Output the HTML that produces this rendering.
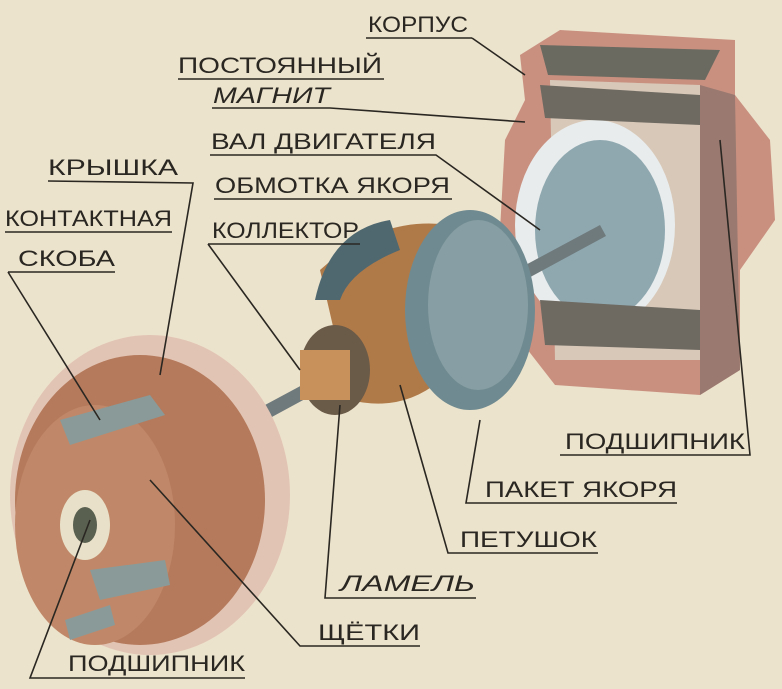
<!DOCTYPE html><html><head><meta charset="utf-8"><style>
body{margin:0;background:#ece3cc;}
svg{display:block}
text{font-family:"Liberation Sans",sans-serif;font-size:22px;fill:#2a2722}
</style></head><body>
<svg width="782" height="689" viewBox="0 0 782 689">
<rect width="782" height="689" fill="#ece3cc"/>
<!-- housing -->
<path d="M520 55 L560 30 L735 40 L735 95 L770 140 L775 220 L740 270 L740 370 L700 395 L555 385 L520 340 L525 280 L500 230 L505 140 L525 100 Z" fill="#c99080"/>
<path d="M540 45 L720 50 L705 80 L548 75 Z" fill="#6a6a60"/>
<path d="M550 80 L700 85 L710 360 L555 360 Z" fill="#d8c8b8"/>
<ellipse cx="595" cy="225" rx="80" ry="105" fill="#e8ecec"/>
<ellipse cx="600" cy="230" rx="65" ry="90" fill="#8fa8b0"/>
<path d="M540 300 L700 310 L700 350 L545 345 Z" fill="#6e6a62"/>
<path d="M540 85 L700 95 L700 125 L545 118 Z" fill="#6e6a62"/>
<path d="M700 85 L735 95 L740 370 L700 395 Z" fill="#9a7a70"/>
<!-- shaft -->
<path d="M265 405 L600 225 L606 236 L270 418 Z" fill="#6f7a7c"/>
<!-- armature -->
<path d="M320 270 Q380 215 450 225 L480 330 Q430 420 350 400 Z" fill="#b07a48"/>
<path d="M315 300 Q330 230 390 220 L400 250 Q350 270 340 300 Z" fill="#4f6870"/>
<ellipse cx="470" cy="310" rx="65" ry="100" fill="#6f8a90"/>
<ellipse cx="478" cy="305" rx="50" ry="85" fill="#869ea4"/>
<ellipse cx="335" cy="370" rx="35" ry="45" fill="#6a5a48"/>
<rect x="300" y="350" width="50" height="50" fill="#c8905a"/>
<!-- cover -->
<ellipse cx="150" cy="495" rx="140" ry="160" fill="#e2c4b4"/>
<ellipse cx="140" cy="500" rx="125" ry="145" fill="#b57a5c"/>
<ellipse cx="95" cy="525" rx="80" ry="120" fill="#c08868"/>
<ellipse cx="85" cy="525" rx="25" ry="35" fill="#e8e0c8"/>
<ellipse cx="85" cy="525" rx="12" ry="18" fill="#5a6050"/>
<path d="M60 420 L150 395 L165 415 L70 445 Z" fill="#8a9a98"/>
<path d="M90 570 L165 560 L170 585 L100 600 Z" fill="#8a9a98"/>
<path d="M65 620 L110 605 L115 625 L70 640 Z" fill="#8a9a98"/>
<!-- labels -->
<g stroke="#2a2722" stroke-width="1.6" fill="none">
<line x1="366" y1="38" x2="472" y2="38"/><line x1="472" y1="38" x2="525" y2="75"/>
<line x1="178" y1="79" x2="384" y2="79"/>
<polyline points="212,108 330,108 525,122"/>
<polyline points="210,155 436,155 540,230"/>
<polyline points="48,181 193,183 160,375"/>
<line x1="214" y1="199" x2="452" y2="199"/>
<polyline points="5,232 172,232"/>
<polyline points="208,244 360,244"/><line x1="208" y1="244" x2="300" y2="370"/>
<polyline points="8,272 115,272 "/><line x1="8" y1="272" x2="100" y2="420"/>
<polyline points="560,455 750,455 720,140"/>
<polyline points="485,503 677,503"/><polyline points="485,503 466,503 480,420"/>
<polyline points="460,553 598,553"/><polyline points="460,553 448,553 400,385"/>
<polyline points="340,598 476,598"/><polyline points="340,598 325,598 340,405"/>
<polyline points="318,646 420,646"/><polyline points="318,646 300,646 150,480"/>
<polyline points="68,678 245,678"/><polyline points="68,678 30,678 90,520"/>
</g>
<text x="368" y="32" textLength="100" lengthAdjust="spacingAndGlyphs">КОРПУС</text>
<text x="178" y="73" textLength="204" lengthAdjust="spacingAndGlyphs">ПОСТОЯННЫЙ</text>
<text x="213" y="103" font-style="italic" textLength="117" lengthAdjust="spacingAndGlyphs">МАГНИТ</text>
<text x="211" y="149" textLength="225" lengthAdjust="spacingAndGlyphs">ВАЛ ДВИГАТЕЛЯ</text>
<text x="48" y="175" textLength="130" lengthAdjust="spacingAndGlyphs">КРЫШКА</text>
<text x="215" y="193" textLength="235" lengthAdjust="spacingAndGlyphs">ОБМОТКА ЯКОРЯ</text>
<text x="5" y="226" textLength="167" lengthAdjust="spacingAndGlyphs">КОНТАКТНАЯ</text>
<text x="212" y="238" textLength="147" lengthAdjust="spacingAndGlyphs">КОЛЛЕКТОР</text>
<text x="18" y="266" textLength="97" lengthAdjust="spacingAndGlyphs">СКОБА</text>
<text x="565" y="449" textLength="180" lengthAdjust="spacingAndGlyphs">ПОДШИПНИК</text>
<text x="485" y="497" textLength="192" lengthAdjust="spacingAndGlyphs">ПАКЕТ ЯКОРЯ</text>
<text x="460" y="547" textLength="137" lengthAdjust="spacingAndGlyphs">ПЕТУШОК</text>
<text x="340" y="591" font-style="italic" textLength="135" lengthAdjust="spacingAndGlyphs">ЛАМЕЛЬ</text>
<text x="318" y="640" textLength="102" lengthAdjust="spacingAndGlyphs">ЩЁТКИ</text>
<text x="68" y="671" textLength="177" lengthAdjust="spacingAndGlyphs">ПОДШИПНИК</text>
</svg></body></html>
